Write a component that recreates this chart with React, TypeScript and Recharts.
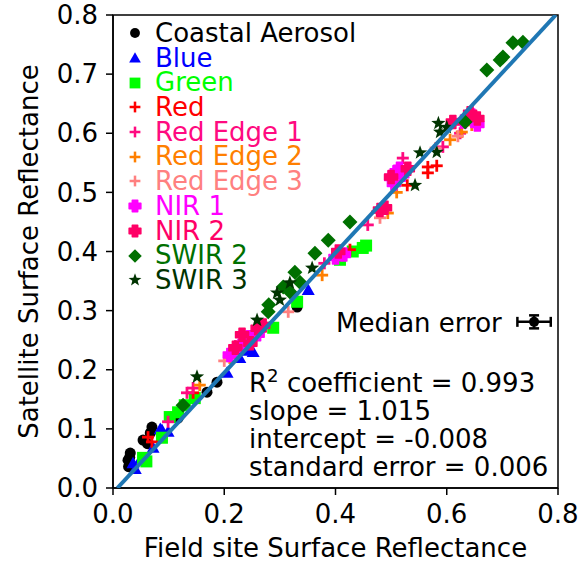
import { ScatterChart, Scatter, XAxis, YAxis, ReferenceArea, ErrorBar, Label } from "recharts";

const FONT = "'DejaVu Sans', sans-serif";

// [field site, satellite] surface reflectance per band
const coastalAerosol = [
  [0.031, 0.059], [0.027, 0.047], [0.028, 0.036], [0.03, 0.052], [0.054, 0.081], [0.067, 0.093],
  [0.062, 0.075], [0.07, 0.103], [0.117, 0.118], [0.169, 0.162], [0.187, 0.179], [0.331, 0.306]
];
const blue = [
  [0.036, 0.042], [0.04, 0.032], [0.05, 0.05], [0.072, 0.068], [0.085, 0.1], [0.088, 0.098],
  [0.099, 0.095], [0.205, 0.195], [0.228, 0.22], [0.243, 0.232], [0.252, 0.23], [0.351, 0.335]
];
const green = [
  [0.054, 0.051], [0.06, 0.045], [0.088, 0.085], [0.102, 0.12], [0.117, 0.128], [0.129, 0.14],
  [0.147, 0.152], [0.288, 0.271], [0.331, 0.315], [0.408, 0.386], [0.431, 0.4], [0.449, 0.406], [0.455, 0.41]
];
const red = [
  [0.063, 0.086], [0.07, 0.078], [0.144, 0.161], [0.426, 0.403], [0.475, 0.467], [0.529, 0.512],
  [0.566, 0.543], [0.582, 0.545], [0.566, 0.533]
];
const redEdge1 = [
  [0.099, 0.112], [0.133, 0.161], [0.144, 0.169], [0.22, 0.24], [0.38, 0.38], [0.41, 0.4],
  [0.458, 0.445], [0.521, 0.558], [0.593, 0.577], [0.624, 0.6], [0.63, 0.62]
];
const redEdge2 = [
  [0.156, 0.174], [0.21, 0.22], [0.24, 0.245], [0.376, 0.36], [0.494, 0.465], [0.51, 0.5],
  [0.606, 0.589], [0.627, 0.602], [0.645, 0.614]
];
const redEdge3 = [
  [0.2, 0.215], [0.24, 0.25], [0.315, 0.298], [0.41, 0.4], [0.48, 0.457], [0.58, 0.575], [0.62, 0.595]
];
const nir1 = [
  [0.21, 0.225], [0.23, 0.24], [0.245, 0.255], [0.26, 0.26], [0.4, 0.39], [0.415, 0.395],
  [0.5, 0.525], [0.51, 0.535], [0.52, 0.53], [0.505, 0.515], [0.515, 0.54],
  [0.63, 0.62], [0.645, 0.63], [0.655, 0.615]
];
const nir2 = [
  [0.22, 0.237], [0.232, 0.259], [0.247, 0.245], [0.26, 0.27], [0.27, 0.275], [0.405, 0.4],
  [0.48, 0.47], [0.489, 0.474], [0.5, 0.526], [0.53, 0.54], [0.611, 0.619], [0.642, 0.634], [0.655, 0.625]
];
const swir2 = [
  [0.126, 0.14], [0.279, 0.298], [0.28, 0.31], [0.306, 0.34], [0.32, 0.33], [0.327, 0.365],
  [0.336, 0.348], [0.363, 0.397], [0.387, 0.419], [0.426, 0.45], [0.633, 0.619],
  [0.672, 0.707], [0.696, 0.724], [0.701, 0.729], [0.719, 0.753], [0.737, 0.754]
];
const swir3 = [
  [0.151, 0.188], [0.259, 0.284], [0.295, 0.33], [0.3, 0.318], [0.318, 0.347], [0.358, 0.372],
  [0.543, 0.512], [0.552, 0.567], [0.582, 0.568], [0.585, 0.617], [0.588, 0.602], [0.6, 0.61]
];

const SLOPE = 1.015;
const INTERCEPT = -0.008;
const R2 = 0.993;
const STD_ERR = 0.006;
const medianError = [{ x: 0.757, y: 0.281, ex: 0.03, ey: 0.011 }];

const xTicks = [0, 0.2, 0.4, 0.6, 0.8];
const yTicks = [0, 0.1, 0.2, 0.3, 0.4, 0.5, 0.6, 0.7, 0.8];

const bands = [
  { name: "Coastal Aerosol", color: "#000000", kind: "circle", data: coastalAerosol },
  { name: "Blue", color: "#0000ff", kind: "triangle", data: blue },
  { name: "Green", color: "#00ff00", kind: "square", data: green },
  { name: "Red", color: "#ff0000", kind: "plus", data: red },
  { name: "Red Edge 1", color: "#ff0a80", kind: "plus", data: redEdge1 },
  { name: "Red Edge 2", color: "#ff7f00", kind: "plus", data: redEdge2 },
  { name: "Red Edge 3", color: "#ff8080", kind: "plus", data: redEdge3 },
  { name: "NIR 1", color: "#ff00ff", kind: "fatplus", data: nir1 },
  { name: "NIR 2", color: "#ff0066", kind: "fatplus", data: nir2 },
  { name: "SWIR 2", color: "#007000", kind: "diamond", data: swir2 },
  { name: "SWIR 3", color: "#003300", kind: "star", data: swir3 }
];

function Marker({ kind, color, cx, cy, s = 1 }: { kind: string; color: string; cx: number; cy: number; s?: number }) {
  switch (kind) {
    case "circle":
      return <circle cx={cx} cy={cy} r={5.5 * s} fill={color} />;
    case "triangle":
      return <polygon points={`${cx},${cy - 6.5 * s} ${cx - 6.5 * s},${cy + 5 * s} ${cx + 6.5 * s},${cy + 5 * s}`} fill={color} />;
    case "square":
      return <rect x={cx - 6 * s} y={cy - 6 * s} width={12 * s} height={12 * s} fill={color} />;
    case "plus":
      return (
        <g stroke={color} strokeWidth={2.8 * s}>
          <line x1={cx - 6 * s} y1={cy} x2={cx + 6 * s} y2={cy} />
          <line x1={cx} y1={cy - 6 * s} x2={cx} y2={cy + 6 * s} />
        </g>
      );
    case "fatplus": {
      const a = 6.5 * s, b = 3 * s;
      const pts = [
        [-b, -a], [b, -a], [b, -b], [a, -b], [a, b], [b, b], [b, a], [-b, a], [-b, b], [-a, b], [-a, -b], [-b, -b]
      ].map(([dx, dy]) => `${cx + dx},${cy + dy}`).join(" ");
      return <polygon points={pts} fill={color} stroke={color} strokeWidth={1.5} strokeLinejoin="round" />;
    }
    case "diamond":
      return <polygon points={`${cx},${cy - 7.5 * s} ${cx + 7.5 * s},${cy} ${cx},${cy + 7.5 * s} ${cx - 7.5 * s},${cy}`} fill={color} />;
    case "star": {
      const pts: string[] = [];
      for (let i = 0; i < 10; i++) {
        const r = (i % 2 === 0 ? 7.5 : 3.1) * s;
        const ang = -Math.PI / 2 + (i * Math.PI) / 5;
        pts.push(`${cx + r * Math.cos(ang)},${cy + r * Math.sin(ang)}`);
      }
      return <polygon points={pts.join(" ")} fill={color} />;
    }
    default:
      return null;
  }
}

export default function App() {
  const fitLine = [
    { x: -INTERCEPT / SLOPE, y: 0 },
    { x: (0.8 - INTERCEPT) / SLOPE, y: 0.8 }
  ];
  return (
    <div style={{ position: "absolute", left: 0, top: 0, width: 581, height: 567, fontFamily: FONT, background: "#fff" }}>
      <ScatterChart width={581} height={567} margin={{ top: 15, right: 23, bottom: 39, left: 0 }}>
        <XAxis
          type="number"
          dataKey="x"
          domain={[0, 0.8]}
          allowDataOverflow
          ticks={xTicks}
          tickFormatter={(v) => v.toFixed(1)}
          height={40}
          tickSize={7}
          tickMargin={10}
          tick={{ fill: "#000", fontSize: 26 }}
          axisLine={{ stroke: "#000", strokeWidth: 1.5 }}
          tickLine={{ stroke: "#000", strokeWidth: 1.5 }}
        >
          <Label value="Field site Surface Reflectance" position="bottom" offset={11} fill="#000" fontSize={26} />
        </XAxis>
        <YAxis
          type="number"
          dataKey="y"
          domain={[0, 0.8]}
          allowDataOverflow
          ticks={yTicks}
          tickFormatter={(v) => v.toFixed(1)}
          width={113}
          tickSize={7}
          tickMargin={8}
          tick={{ fill: "#000", fontSize: 26 }}
          axisLine={{ stroke: "#000", strokeWidth: 1.5 }}
          tickLine={{ stroke: "#000", strokeWidth: 1.5 }}
        >
          <Label
            value="Satellite Surface Reflectance"
            angle={-90}
            position="insideLeft"
            offset={29}
            fill="#000"
            fontSize={26}
            style={{ textAnchor: "middle" }}
          />
        </YAxis>
        {bands.map((b) => (
          <Scatter
            key={b.name}
            name={b.name}
            data={b.data.map(([x, y]) => ({ x, y }))}
            isAnimationActive={false}
            shape={(p: any) => <Marker kind={b.kind} color={b.color} cx={p.cx} cy={p.cy} />}
          />
        ))}
        <Scatter
          data={fitLine}
          isAnimationActive={false}
          line={{ stroke: "#1f77b4", strokeWidth: 4 }}
          shape={() => <g />}
        />
        <Scatter
          data={medianError}
          isAnimationActive={false}
          shape={(p: any) => <circle cx={p.cx} cy={p.cy} r={5} fill="#000" />}
        >
          <ErrorBar dataKey="ex" direction="x" width={5} stroke="#000" strokeWidth={2.5} />
          <ErrorBar dataKey="ey" direction="y" width={5} stroke="#000" strokeWidth={2.5} />
        </Scatter>
        <ReferenceArea x1={0} x2={0.8} y1={0} y2={0.8} fill="none" stroke="#000" strokeWidth={1.5} />
      </ScatterChart>

      <div style={{ position: "absolute", left: 123, top: 21, fontSize: 26, lineHeight: "24.7px" }}>
        {bands.map((b) => (
          <div key={b.name} style={{ display: "flex", alignItems: "center", height: 24.7 }}>
            <svg width={24} height={24} style={{ marginRight: 8 }}>
              <Marker kind={b.kind} color={b.color} cx={12} cy={12} s={0.9} />
            </svg>
            <span style={{ color: b.color, whiteSpace: "nowrap" }}>{b.name}</span>
          </div>
        ))}
      </div>

      <div style={{ position: "absolute", left: 336, top: 309, fontSize: 26, lineHeight: "28px", color: "#000" }}>
        Median error
      </div>

      <div style={{ position: "absolute", left: 249, top: 369, fontSize: 26, lineHeight: "28px", color: "#000", whiteSpace: "nowrap" }}>
        <div>
          R<sup style={{ fontSize: "0.7em", lineHeight: 0 }}>2</sup> coefficient = {R2.toFixed(3)}
        </div>
        <div>slope = {SLOPE.toFixed(3)}</div>
        <div>intercept = {INTERCEPT.toFixed(3)}</div>
        <div>standard error = {STD_ERR.toFixed(3)}</div>
      </div>
    </div>
  );
}
